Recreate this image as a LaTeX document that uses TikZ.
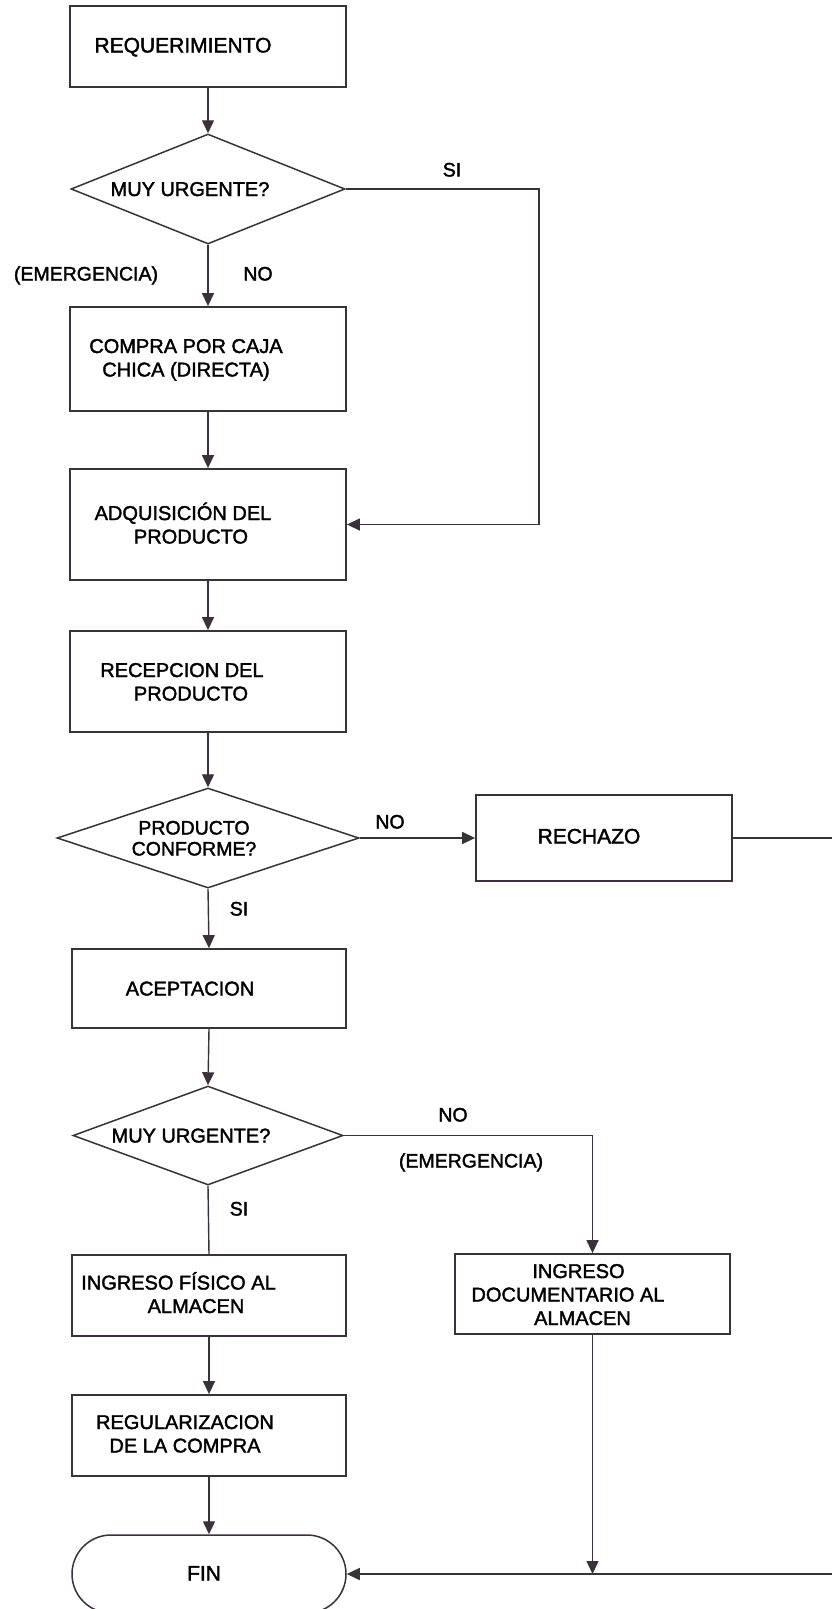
\documentclass[tikz,border=0pt]{standalone}
\usepackage{fontspec}
\setmainfont[FakeBold=1.8]{Liberation Sans}
\usetikzlibrary{arrows.meta,shapes.geometric,shapes.misc}
\definecolor{ink}{RGB}{58,50,58}
\begin{document}
\begin{tikzpicture}[x=1pt,y=-1pt,
  box/.style={draw=ink,line width=1.8pt,inner sep=0pt,rectangle},
  dec/.style={draw=ink,line width=1.5pt,inner sep=0pt,diamond},
  term/.style={draw=ink,line width=1.5pt,inner sep=0pt,rounded rectangle},
  txt/.style={inner sep=0pt,anchor=base,align=center,font=\fontsize{20}{23.5}\selectfont},
  big/.style={txt,font=\fontsize{21}{23.5}\selectfont},
  tag/.style={txt,font=\fontsize{19.5}{21}\selectfont},
  link/.style={draw=ink,line width=1.4pt},
  arr/.style={link,-{Triangle[length=13pt,width=12pt]}}]
\useasboundingbox (0,0) rectangle (832,1609);
\clip (0,0) rectangle (832,1609);
\fill[white] (0,0) rectangle (832,1609);

% main column of steps (text nodes sit on the baseline of their last line)
\node[box,minimum width=276pt,minimum height=81pt] (req) at (208,46.5) {};
\node[big] (reqT) at (183,52.5) {REQUERIMIENTO};

\node[dec,minimum width=274pt,minimum height=110pt] (urg1) at (208,189) {};
\node[txt] (urg1T) at (190,196) {MUY URGENTE?};

\node[box,minimum width=276pt,minimum height=104pt] (caja) at (208,359) {};
\node[txt] (cajaT) at (186,376.5) {COMPRA POR CAJA\\CHICA (DIRECTA)};

\node[box,minimum width=276pt,minimum height=111pt] (adq) at (208,524.5) {};
\node[txt] (adqT) at (183,543.5) {ADQUISICIÓN DEL\\\hspace*{16pt}PRODUCTO};

\node[box,minimum width=276pt,minimum height=101pt] (rec) at (208,681.5) {};
\node[txt] (recT) at (182,700.5) {RECEPCION DEL\\\hspace*{18pt}PRODUCTO};

\node[dec,minimum width=302pt,minimum height=100pt] (conf) at (208,838) {};
\node[tag] (confT) at (194,855.5) {PRODUCTO\\CONFORME?};

\node[box,minimum width=256pt,minimum height=86pt] (rech) at (604,838) {};
\node[big] (rechT) at (589,843.5) {RECHAZO};

\node[box,minimum width=274pt,minimum height=79pt] (acep) at (209,988.5) {};
\node[txt] (acepT) at (190,995.5) {ACEPTACION};

\node[dec,minimum width=270pt,minimum height=99pt] (urg2) at (208,1135.5) {};
\node[txt] (urg2T) at (191,1142.5) {MUY URGENTE?};

\node[box,minimum width=274pt,minimum height=81pt] (fis) at (209,1295.5) {};
\node[txt] (fisT) at (178.5,1313) {INGRESO FÍSICO AL\\\hspace*{35pt}ALMACEN};

\node[box,minimum width=275pt,minimum height=80pt] (doc) at (592.5,1294) {};
\node[txt] (docT) at (568,1325) {\hspace*{21pt}INGRESO\\DOCUMENTARIO AL\\\hspace*{29pt}ALMACEN};

\node[box,minimum width=274pt,minimum height=81pt] (reg) at (209,1435.5) {};
\node[txt] (regT) at (185,1452.5) {REGULARIZACION\\DE LA COMPRA};

\node[term,minimum width=274pt,minimum height=78pt] (fin) at (209,1574) {};
\node[big] (finT) at (204,1580.5) {FIN};

% branch labels
\node[tag] (si1) at (452,176.5) {SI};
\node[tag] (emer1) at (86,280.5) {(EMERGENCIA)};
\node[tag] (no1) at (258,280.5) {NO};
\node[tag] (no2) at (390,828.5) {NO};
\node[tag] (si2) at (239,915.5) {SI};
\node[tag] (no3) at (453,1121.5) {NO};
\node[tag] (emer2) at (471,1167.5) {(EMERGENCIA)};
\node[tag] (si3) at (239,1215.5) {SI};

% turning points and off-page ends
\coordinate (siTurn) at (539,189);
\coordinate (rechEnd) at (832,838);
\coordinate (finEnd) at (832,1574);

% connectors
\draw[arr] (req.south) -- (urg1.north);
\draw[arr] (urg1.south) -- (caja.north);
\draw[arr] (urg1.east) -- (siTurn) |- (adq.east);
\draw[arr] (caja.south) -- (adq.north);
\draw[arr] (adq.south) -- (rec.north);
\draw[arr] (rec.south) -- (conf.north);
\draw[arr] (conf.east) -- (rech.west);
\draw[link] (rech.east) -- (rechEnd);
\draw[arr] (conf.south) -- (acep.north);
\draw[arr] (acep.south) -- (urg2.north);
\draw[link] (urg2.south) -- (fis.north);
\draw[arr] (urg2.east) -| (doc.north);
\draw[arr] (fis.south) -- (reg.north);
\draw[arr] (reg.south) -- (fin.north);
\draw[arr] (doc.south) -- (doc.south |- fin.east);
\draw[arr] (finEnd) -- (fin.east);
\end{tikzpicture}
\end{document}
